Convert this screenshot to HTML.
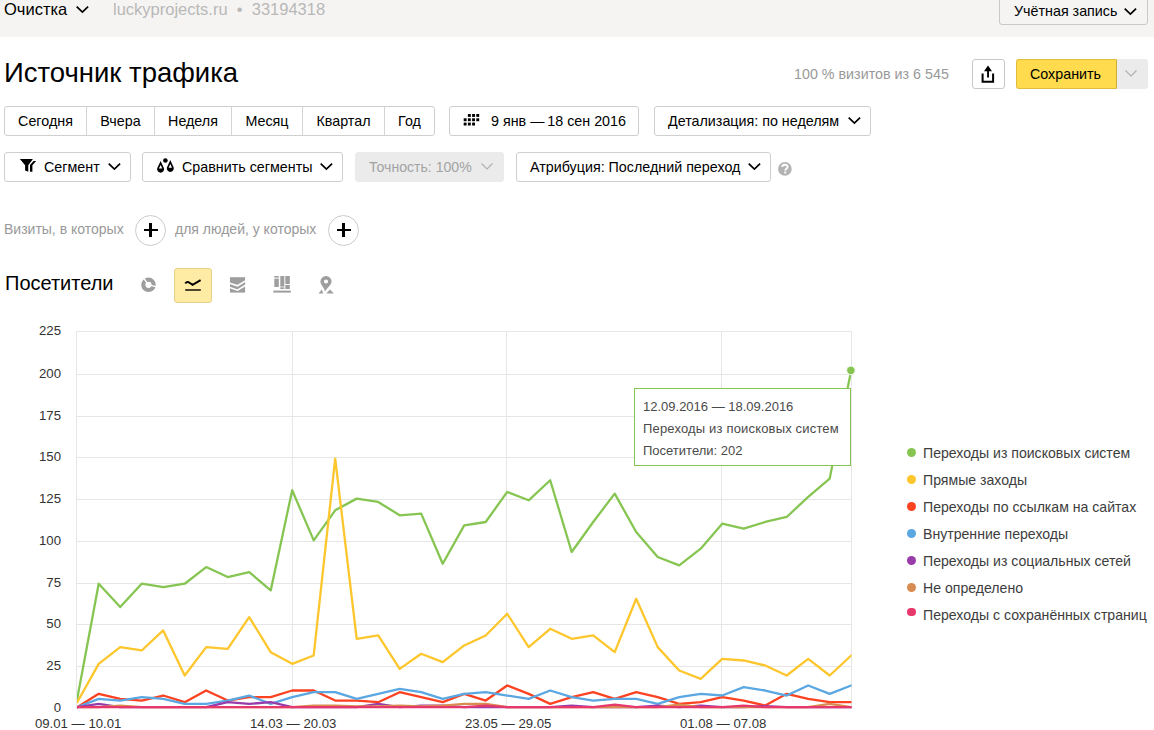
<!DOCTYPE html>
<html><head><meta charset="utf-8">
<style>
*{box-sizing:border-box;margin:0;padding:0}
html,body{width:1154px;height:730px;overflow:hidden;background:#fff;font-family:"Liberation Sans",sans-serif;color:#000}
.a{position:absolute;white-space:nowrap}
.hdr{position:absolute;left:0;top:0;width:1154px;height:37px;background:#f5f4f2}
.btn{position:absolute;border:1px solid #cfcfcf;border-radius:3px;background:#fff;font-size:14.3px;line-height:29px;white-space:nowrap}
.seg{position:absolute;top:0;bottom:0;border-left:1px solid #d4d4d4;text-align:center}
.cv{position:absolute;width:15px;height:9px}
.chart{position:absolute;left:0;top:0}
.lg{position:absolute;left:904px;height:18px;line-height:18px;font-size:14.1px;color:#3d3d3d;white-space:nowrap;padding-left:19px}
.lg i{position:absolute;left:3px;top:4.5px;width:9px;height:9px;border-radius:50%}
.plus{position:absolute;width:31px;height:31px;border:1px solid #ccc;border-radius:50%}
.plus:before{content:"";position:absolute;left:7.5px;top:13.3px;width:14px;height:2.4px;background:#000}
.plus:after{content:"";position:absolute;left:13.3px;top:7.5px;width:2.4px;height:14px;background:#000}
.ic{position:absolute}
</style></head><body>
<div class="hdr"></div>
<div class="a" style="left:4px;top:1px;font-size:16.5px;line-height:16px">Очистка</div>
<svg class="cv" style="left:75px;top:5px"><polyline points="1.7,1.6 7.4,7.1 13.1,1.6" fill="none" stroke="#000" stroke-width="1.7"/></svg>
<div class="a" style="left:113px;top:1px;font-size:16.5px;line-height:16px;color:#b8b8b8">luckyprojects.ru &nbsp;•&nbsp; 33194318</div>
<div class="btn" style="left:999px;top:-6px;width:149px;height:31px;background:transparent;border-color:#c9c9c9"></div>
<div class="a" style="left:1014px;top:3px;font-size:14.3px;line-height:16px">Учётная запись</div>
<svg class="cv" style="left:1123px;top:7px"><polyline points="1.7,1.6 7.4,7.1 13.1,1.6" fill="none" stroke="#000" stroke-width="1.7"/></svg>

<div class="a" style="left:4px;top:58px;font-size:27.5px;line-height:30px">Источник трафика</div>
<div class="a" style="left:794px;top:66px;font-size:14.3px;line-height:16px;color:#999">100 % визитов из 6 545</div>
<div class="btn" style="left:972px;top:59px;width:33px;height:30px;border-color:#c8c8c8"></div>
<svg class="ic" style="left:972px;top:59px" width="33" height="30" viewBox="972 59 33 30">
<path d="M984 71.2 L988 65.5 L992 71.2 Z" fill="#000"/>
<rect x="987.1" y="70" width="1.9" height="7.5" fill="#000"/>
<polyline points="982.6,73.6 982.6,81.8 993.1,81.8 993.1,73.6" fill="none" stroke="#000" stroke-width="2"/>
</svg>
<div class="btn" style="left:1117px;top:59px;width:31px;height:30px;background:#ebebeb;border-color:#ebebeb;border-radius:0 3px 3px 0"></div>
<div class="btn" style="left:1016px;top:59px;width:101px;height:30px;background:#ffdb4d;border-color:#e0bd3a;border-right-color:#cfae38;border-radius:3px 0 0 3px;text-align:center;padding-right:2px">Сохранить</div>
<svg class="cv" style="left:1124px;top:69px"><polyline points="1.5,1.5 7,7 12.5,1.5" fill="none" stroke="#b0b0b0" stroke-width="1.2"/></svg>

<!-- row 1 -->
<div class="btn" style="left:4px;top:106px;width:431px;height:30px">
<div class="seg" style="left:0;width:81px;border-left:0">Сегодня</div>
<div class="seg" style="left:81px;width:68px">Вчера</div>
<div class="seg" style="left:149px;width:77px">Неделя</div>
<div class="seg" style="left:226px;width:71px">Месяц</div>
<div class="seg" style="left:297px;width:82px">Квартал</div>
<div class="seg" style="left:379px;width:50px">Год</div>
</div>
<div class="btn" style="left:449px;top:106px;width:190px;height:30px;padding-left:41px">9 янв —&#8201;18 сен 2016</div>
<svg class="ic" style="left:460px;top:110px" width="24" height="20" viewBox="460 110 24 20"><g fill="#000">
<rect x="467.9" y="114" width="2.9" height="2.9"/><rect x="472.1" y="114" width="2.9" height="2.9"/><rect x="476.3" y="114" width="2.9" height="2.9"/>
<rect x="463.7" y="118.3" width="2.9" height="2.9"/><rect x="467.9" y="118.3" width="2.9" height="2.9"/><rect x="472.1" y="118.3" width="2.9" height="2.9"/><rect x="476.3" y="118.3" width="2.9" height="2.9"/>
<rect x="463.7" y="122.6" width="2.9" height="2.9"/><rect x="467.9" y="122.6" width="2.9" height="2.9"/><rect x="472.1" y="122.6" width="2.9" height="2.9"/>
</g></svg>
<div class="btn" style="left:654px;top:106px;width:217px;height:30px;padding-left:13px">Детализация: по неделям</div>
<svg class="cv" style="left:847px;top:116px"><polyline points="1.7,1.6 7.4,7.1 13.1,1.6" fill="none" stroke="#000" stroke-width="1.7"/></svg>

<!-- row 2 -->
<div class="btn" style="left:4px;top:152px;width:127px;height:30px;padding-left:39px">Сегмент</div>
<svg class="ic" style="left:15px;top:155px" width="25" height="20" viewBox="15 155 25 20"><g fill="#000">
<path d="M19.9 159 L32.9 159 L28.3 165.2 L28.3 171.7 L25.1 170.6 L25.1 165.2 Z"/>
<path d="M30 171.7 L32.4 171.7 L32.4 165.3 L36.1 161.1 L33.6 161.1 L30 165.1 Z"/>
</g></svg>
<svg class="cv" style="left:107px;top:162px"><polyline points="1.7,1.6 7.4,7.1 13.1,1.6" fill="none" stroke="#000" stroke-width="1.7"/></svg>
<div class="btn" style="left:142px;top:152px;width:201px;height:30px;padding-left:39px">Сравнить сегменты</div>
<svg class="ic" style="left:150px;top:155px" width="30" height="20" viewBox="150 155 30 20"><g fill="#000">
<path d="M160.6 161 L157.2 168.3 A3.5 3.5 0 1 0 164 168.3 Z M160.6 165 L162.3 168.5 L158.9 168.5 Z" fill-rule="evenodd"/>
<path d="M170.3 160 L166.9 167.6 A3.5 3.5 0 1 0 173.7 167.6 Z M170.3 164 L172 167.8 L168.6 167.8 Z" fill-rule="evenodd"/>
<circle cx="165.4" cy="160.5" r="2.3"/>
</g></svg>
<svg class="cv" style="left:319px;top:162px"><polyline points="1.7,1.6 7.4,7.1 13.1,1.6" fill="none" stroke="#000" stroke-width="1.7"/></svg>
<div class="btn" style="left:355px;top:152px;width:149px;height:30px;padding-left:13px;font-size:14.1px;background:#ebebeb;border-color:#ebebeb;color:#a3a3a3">Точность: 100%</div>
<svg class="cv" style="left:480px;top:162px"><polyline points="1.5,1.5 7,7 12.5,1.5" fill="none" stroke="#b0b0b0" stroke-width="1.2"/></svg>
<div class="btn" style="left:516px;top:152px;width:255px;height:30px;padding-left:13px">Атрибуция: Последний переход</div>
<svg class="cv" style="left:747px;top:162px"><polyline points="1.7,1.6 7.4,7.1 13.1,1.6" fill="none" stroke="#000" stroke-width="1.7"/></svg>
<svg class="ic" style="left:776px;top:160px" width="18" height="18" viewBox="776 160 18 18"><circle cx="784.9" cy="168.9" r="6.8" fill="#b3b3b3"/>
<path d="M782.3 167 C782.3 164.2 787.6 164 787.6 166.9 C787.6 168.6 785.2 168.8 785.2 170.6" fill="none" stroke="#fff" stroke-width="1.9"/><rect x="784.2" y="171.6" width="2" height="1.8" fill="#fff"/></svg>

<!-- filter row -->
<div class="a" style="left:4px;top:221px;font-size:14px;line-height:16px;color:#999">Визиты, в которых</div>
<div class="plus" style="left:135px;top:214.5px"></div>
<div class="a" style="left:175px;top:221px;font-size:14px;line-height:16px;color:#999">для людей, у которых</div>
<div class="plus" style="left:328px;top:214.5px"></div>

<div class="a" style="left:5px;top:271.5px;font-size:20px;line-height:22px">Посетители</div>
<svg class="ic" style="left:130px;top:265px" width="220" height="35" viewBox="130 265 220 35">
<circle cx="148.5" cy="284.8" r="5.2" fill="none" stroke="#9e9e9e" stroke-width="4.2"/>
<path d="M148.5 284.8 L143.5 278 M148.5 284.8 L156 286.6" stroke="#fff" stroke-width="1.3"/>
<g fill="#9e9e9e"><path d="M230 277.2 H245.1 V292.6 H230 Z"/></g>
<g fill="none" stroke="#fff" stroke-width="1.6"><polyline points="229,283 237.5,285.8 246,280.6"/><polyline points="229,287.2 237.5,290.2 246,285"/></g>
<g fill="#9e9e9e">
<rect x="274.3" y="276" width="4.5" height="1.6"/><rect x="274.3" y="278.6" width="4.5" height="8.4"/>
<rect x="280.3" y="276" width="4" height="10.6"/><rect x="280.3" y="287.3" width="4" height="1.7"/>
<rect x="285.3" y="276" width="4.5" height="8"/><rect x="285.3" y="285" width="4.5" height="4"/>
<rect x="273.3" y="290.6" width="17.5" height="2"/>
<path d="M326 276 A5.6 5.6 0 0 1 331.6 281.6 C331.6 284.5 328 287.5 324.8 291.5 C324.8 288.5 320.4 285 320.4 281.6 A5.6 5.6 0 0 1 326 276 Z M326 279.4 A2.1 2.1 0 1 0 326 283.6 A2.1 2.1 0 1 0 326 279.4 Z" fill-rule="evenodd"/>
<path d="M318.5 293.6 L321.8 289.4 L323.2 293.6 Z"/><path d="M326.3 293.6 L330 289.4 L333.8 293.6 Z"/>
</g>
</svg>
<div class="a" style="left:174px;top:268px;width:38px;height:35px;background:#ffeca4;border:1px solid #e5d18a;border-radius:3px"></div>
<svg class="ic" style="left:174px;top:268px" width="38" height="35" viewBox="174 268 38 35">
<path d="M185.3 283.6 C186.5 281.6 188 281.6 189.5 282.8 L192.6 284.9 L200.6 280.2" fill="none" stroke="#000" stroke-width="2"/>
<rect x="185.2" y="289.1" width="15.6" height="1.8" fill="#3a3522"/>
</svg>
<svg class="chart" width="1154" height="730" viewBox="0 0 1154 730">
<g stroke="#e6e6e6" stroke-width="1" shape-rendering="crispEdges"><line x1="76" y1="666.5" x2="852" y2="666.5"/><line x1="76" y1="624.5" x2="852" y2="624.5"/><line x1="76" y1="583.5" x2="852" y2="583.5"/><line x1="76" y1="541.5" x2="852" y2="541.5"/><line x1="76" y1="499.5" x2="852" y2="499.5"/><line x1="76" y1="457.5" x2="852" y2="457.5"/><line x1="76" y1="416.5" x2="852" y2="416.5"/><line x1="76" y1="374.5" x2="852" y2="374.5"/><line x1="76" y1="331.5" x2="852" y2="331.5"/><line x1="76.5" y1="331" x2="76.5" y2="709"/><line x1="292.2" y1="331" x2="292.2" y2="709"/><line x1="506.3" y1="331" x2="506.3" y2="709"/><line x1="721.5" y1="331" x2="721.5" y2="709"/><line x1="851.5" y1="331" x2="851.5" y2="709"/></g>
<g font-family="Liberation Sans, sans-serif" font-size="13.2" fill="#333"><text x="61" y="712.2" text-anchor="end">0</text><text x="61" y="670.2" text-anchor="end">25</text><text x="61" y="628.2" text-anchor="end">50</text><text x="61" y="587.2" text-anchor="end">75</text><text x="61" y="545.2" text-anchor="end">100</text><text x="61" y="503.2" text-anchor="end">125</text><text x="61" y="461.2" text-anchor="end">150</text><text x="61" y="420.2" text-anchor="end">175</text><text x="61" y="378.2" text-anchor="end">200</text><text x="61" y="335.2" text-anchor="end">225</text><text x="78.2" y="727.6" text-anchor="middle">09.01 — 10.01</text><text x="293.2" y="727.6" text-anchor="middle">14.03 — 20.03</text><text x="508.2" y="727.6" text-anchor="middle">23.05 — 29.05</text><text x="723.2" y="727.6" text-anchor="middle">01.08 — 07.08</text></g>
<defs><clipPath id="pc"><rect x="77" y="300" width="774.5" height="409"/></clipPath></defs><g clip-path="url(#pc)" fill="none" stroke-width="2.3" stroke-linejoin="round" stroke-linecap="round"><path d="M77.20 698.86 L98.70 583.72 L120.20 607.08 L141.70 583.72 L163.20 587.06 L184.70 583.72 L206.20 567.04 L227.70 577.05 L249.20 572.04 L270.70 590.40 L292.20 490.28 L313.70 540.34 L335.20 510.31 L356.70 498.62 L378.20 501.96 L399.70 515.31 L421.20 513.64 L442.70 563.70 L464.20 525.32 L485.70 521.99 L507.20 491.95 L528.70 500.29 L550.20 480.27 L571.70 552.02 L593.20 521.99 L614.70 493.62 L636.20 532.00 L657.70 557.03 L679.20 565.37 L700.70 548.68 L722.20 523.65 L743.70 528.66 L765.20 521.99 L786.70 516.98 L808.20 496.96 L829.70 478.60 L851.20 370.14" stroke="#86c552"/><path d="M77.20 702.19 L98.70 663.82 L120.20 647.13 L141.70 650.47 L163.20 630.44 L184.70 675.50 L206.20 647.13 L227.70 648.80 L249.20 617.10 L270.70 652.14 L292.20 663.82 L313.70 655.47 L335.20 458.58 L356.70 638.79 L378.20 635.45 L399.70 668.82 L421.20 653.80 L442.70 662.15 L464.20 645.46 L485.70 635.45 L507.20 613.76 L528.70 647.13 L550.20 628.78 L571.70 638.79 L593.20 635.45 L614.70 652.14 L636.20 598.74 L657.70 647.13 L679.20 670.49 L700.70 678.83 L722.20 658.81 L743.70 660.48 L765.20 665.49 L786.70 675.50 L808.20 658.81 L829.70 675.50 L851.20 655.47" stroke="#fcc62c"/><path d="M77.20 707.20 L98.70 693.85 L120.20 698.86 L141.70 700.53 L163.20 695.52 L184.70 702.19 L206.20 690.51 L227.70 700.53 L249.20 697.19 L270.70 697.19 L292.20 690.51 L313.70 690.51 L335.20 700.53 L356.70 700.53 L378.20 702.19 L399.70 692.18 L421.20 697.19 L442.70 702.19 L464.20 693.85 L485.70 700.53 L507.20 685.51 L528.70 693.85 L550.20 703.86 L571.70 697.19 L593.20 692.18 L614.70 698.86 L636.20 692.18 L657.70 697.19 L679.20 703.86 L700.70 702.19 L722.20 697.19 L743.70 700.53 L765.20 705.53 L786.70 693.85 L808.20 698.86 L829.70 702.19 L851.20 702.19" stroke="#fc4220"/><path d="M77.20 707.20 L98.70 698.86 L120.20 700.53 L141.70 697.19 L163.20 698.86 L184.70 703.86 L206.20 703.86 L227.70 700.53 L249.20 695.52 L270.70 703.86 L292.20 697.19 L313.70 692.18 L335.20 692.18 L356.70 698.86 L378.20 693.85 L399.70 688.85 L421.20 692.18 L442.70 698.86 L464.20 693.85 L485.70 692.18 L507.20 695.52 L528.70 698.86 L550.20 690.51 L571.70 697.19 L593.20 700.53 L614.70 698.86 L636.20 698.86 L657.70 703.86 L679.20 697.19 L700.70 693.85 L722.20 695.52 L743.70 687.18 L765.20 690.51 L786.70 695.52 L808.20 685.51 L829.70 693.85 L851.20 685.51" stroke="#5aa7e2"/><path d="M77.20 707.20 L98.70 703.86 L120.20 707.20 L141.70 707.20 L163.20 707.20 L184.70 707.20 L206.20 707.20 L227.70 702.19 L249.20 703.86 L270.70 702.19 L292.20 707.20 L313.70 707.20 L335.20 707.20 L356.70 707.20 L378.20 703.86 L399.70 707.20 L421.20 705.53 L442.70 705.53 L464.20 707.20 L485.70 707.20 L507.20 707.20 L528.70 707.20 L550.20 707.20 L571.70 705.53 L593.20 707.20 L614.70 707.20 L636.20 707.20 L657.70 705.53 L679.20 707.20 L700.70 705.53 L722.20 707.20 L743.70 707.20 L765.20 706.03 L786.70 707.20 L808.20 707.20 L829.70 707.20 L851.20 707.20" stroke="#983ca9"/><path d="M77.20 707.20 L98.70 707.20 L120.20 705.53 L141.70 707.20 L163.20 707.20 L184.70 707.20 L206.20 707.20 L227.70 707.20 L249.20 707.20 L270.70 707.20 L292.20 707.20 L313.70 705.53 L335.20 705.53 L356.70 706.37 L378.20 706.37 L399.70 705.53 L421.20 706.37 L442.70 705.53 L464.20 703.86 L485.70 703.86 L507.20 707.20 L528.70 707.20 L550.20 707.20 L571.70 707.20 L593.20 707.20 L614.70 707.20 L636.20 707.20 L657.70 707.20 L679.20 704.70 L700.70 707.20 L722.20 707.20 L743.70 707.20 L765.20 707.20 L786.70 707.20 L808.20 707.20 L829.70 703.86 L851.20 707.20" stroke="#d98c52"/><path d="M77.20 707.20 L98.70 707.20 L120.20 707.20 L141.70 707.20 L163.20 707.20 L184.70 707.20 L206.20 707.20 L227.70 707.20 L249.20 707.20 L270.70 707.20 L292.20 707.20 L313.70 707.20 L335.20 707.20 L356.70 707.20 L378.20 707.20 L399.70 707.20 L421.20 707.20 L442.70 707.20 L464.20 707.20 L485.70 705.53 L507.20 707.20 L528.70 707.20 L550.20 707.20 L571.70 707.20 L593.20 707.20 L614.70 704.70 L636.20 707.20 L657.70 707.20 L679.20 707.20 L700.70 707.20 L722.20 707.20 L743.70 705.53 L765.20 707.20 L786.70 707.20 L808.20 707.20 L829.70 707.20 L851.20 707.20" stroke="#e6386a"/></g>
<circle cx="850.9" cy="370.4" r="4.3" fill="#86c552" stroke="#fff" stroke-width="1"/>
<rect x="634.5" y="388.5" width="216" height="77" fill="#fff" stroke="#86c552" stroke-width="1"/>
<g font-family="Liberation Sans, sans-serif" font-size="13" fill="#4a4a4a">
<text x="643" y="411">12.09.2016 — 18.09.2016</text>
<text x="643" y="433" letter-spacing="0.17">Переходы из поисковых систем</text>
<text x="643" y="455">Посетители: 202</text>
</g>
</svg>
<div class="lg" style="top:443.5px"><i style="background:#86c552;"></i>Переходы из поисковых систем</div><div class="lg" style="top:470.5px"><i style="background:#fcc62c;"></i>Прямые заходы</div><div class="lg" style="top:497.5px"><i style="background:#fc4220;"></i>Переходы по ссылкам на сайтах</div><div class="lg" style="top:524.5px"><i style="background:#5aa7e2;"></i>Внутренние переходы</div><div class="lg" style="top:551.5px"><i style="background:#983ca9;"></i>Переходы из социальных сетей</div><div class="lg" style="top:578.5px"><i style="background:#d98c52;"></i>Не определено</div><div class="lg" style="top:605.5px"><i style="background:#e6386a;top:2.2px;width:8.6px;height:8.6px;left:3.2px"></i>Переходы с сохранённых страниц</div>
</body></html>
